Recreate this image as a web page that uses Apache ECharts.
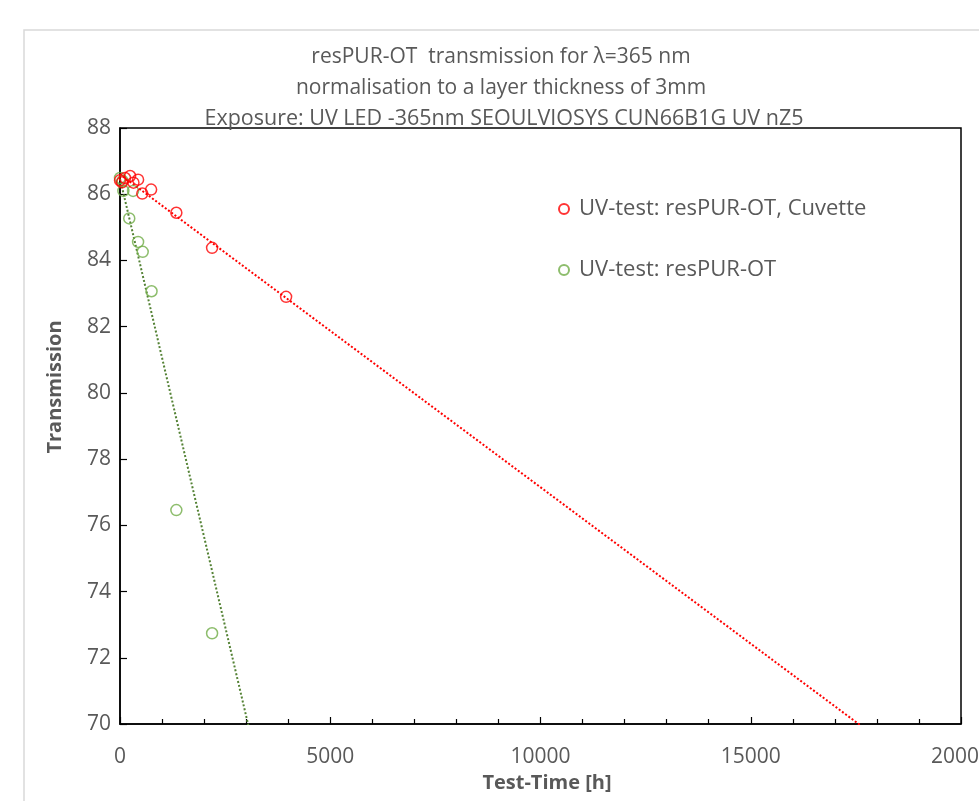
<!DOCTYPE html>
<html>
<head>
<meta charset="utf-8">
<script src="https://cdn.jsdelivr.net/npm/echarts@6/dist/echarts.min.js"></script>
<style>html,body{margin:0;padding:0;background:#fff}#c{width:979px;height:801px}</style>
</head>
<body>
<div id="c"></div>
<script>
// ---- data ----
var titleLines = [
  'resPUR-OT  transmission for \u03bb=365 nm',
  'normalisation to a layer thickness of 3mm',
  'Exposure: UV LED -365nm SEOULVIOSYS CUN66B1G UV nZ5'
];
var seriesNames = ['UV-test: resPUR-OT, Cuvette', 'UV-test: resPUR-OT'];
var cuvetteTime = [0, 48, 120, 240, 320, 430, 530, 740, 1340, 2190, 3950];
var cuvetteValue = [86.42, 86.36, 86.49, 86.55, 86.35, 86.44, 86.02, 86.14, 85.44, 84.38, 82.9];
var layerTime = [0, 60, 80, 220, 310, 430, 540, 750, 1340, 2190];
var layerValue = [86.49, 86.4, 86.1, 85.27, 86.1, 84.56, 84.26, 83.07, 76.46, 72.74];
// linear trend lines: [intercept, slope per hour]
var cuvetteTrend = [86.6, -0.000945];
var layerTrend = [86.47, -0.00541];
var xTicks = [0, 5000, 10000, 15000, 20000];
var yTicks = [70, 72, 74, 76, 78, 80, 82, 84, 86, 88];
var xTitle = 'Test-Time [h]';
var yTitle = 'Transmission';

function pairs(t, v) { return t.map(function (x, i) { return [x, v[i]]; }); }
function trend(c) { return [xTicks[0], xTicks[xTicks.length - 1]].map(function (x) { return [x, c[0] + c[1] * x]; }); }

var FONT = '"Open Sans", sans-serif';
var GREY = '#595959';
var chart = echarts.init(document.getElementById('c'));
chart.setOption({
  animation: false,
  backgroundColor: '#fff',
  textStyle: { fontFamily: FONT },
  graphic: [
    { type: 'rect', shape: { x: 24, y: 30, width: 1000, height: 820 }, style: { fill: 'none', stroke: '#d9d9d9', lineWidth: 1.5 }, silent: true },
    { type: 'text', x: 501, y: 57, style: { text: titleLines[0], fill: GREY, font: '21px ' + FONT, textAlign: 'center', textVerticalAlign: 'middle' } },
    { type: 'text', x: 501, y: 88, style: { text: titleLines[1], fill: GREY, font: '21px ' + FONT, textAlign: 'center', textVerticalAlign: 'middle' } },
    { type: 'text', x: 504, y: 119, style: { text: titleLines[2], fill: GREY, font: '21.5px ' + FONT, textAlign: 'center', textVerticalAlign: 'middle' } },
    { type: 'text', x: 547, y: 783, style: { text: xTitle, fill: GREY, font: 'bold 20px ' + FONT, textAlign: 'center', textVerticalAlign: 'middle' } },
    { type: 'text', x: 55, y: 387, rotation: Math.PI / 2, style: { text: yTitle, fill: GREY, font: 'bold 20px ' + FONT, textAlign: 'center', textVerticalAlign: 'middle' } }
  ],
  grid: { left: 120, right: 18, top: 128, bottom: 77, show: true, borderColor: '#000', borderWidth: 1.5,
    backgroundColor: 'transparent', containLabel: false, outerBoundsMode: 'none' },
  legend: {
    orient: 'vertical', left: 553, top: 192, itemGap: 37, itemWidth: 10, itemHeight: 10,
    data: seriesNames,
    textStyle: { color: GREY, fontSize: 22, fontFamily: FONT, padding: [0, 0, 0, 5], lineHeight: 24 }
  },
  xAxis: {
    type: 'value', min: xTicks[0], max: xTicks[xTicks.length - 1], interval: 5000,
    axisLine: { show: true, lineStyle: { color: '#000', width: 1.5 } },
    axisTick: { show: true, inside: true, length: 7, lineStyle: { color: '#000', width: 1.2 } },
    minorTick: { show: true, splitNumber: 5, length: 5, lineStyle: { color: '#000', width: 1.2 } },
    splitLine: { show: false },
    axisLabel: { color: GREY, fontSize: 21, margin: 23, fontFamily: FONT, formatter: function (v) { return String(v); } }
  },
  yAxis: {
    type: 'value', min: yTicks[0], max: yTicks[yTicks.length - 1], interval: 2,
    axisLine: { show: true, lineStyle: { color: '#000', width: 1.5 } },
    axisTick: { show: true, inside: true, length: 7, lineStyle: { color: '#000', width: 1.2 } },
    splitLine: { show: false },
    axisLabel: { color: GREY, fontSize: 21, margin: 9, fontFamily: FONT }
  },
  series: [
    { type: 'line', name: 'trend1', data: trend(cuvetteTrend), showSymbol: false, symbol: 'none', silent: true,
      lineStyle: { color: '#ff0000', width: 2, type: 'dotted' }, clip: true, z: 1 },
    { type: 'line', name: 'trend2', data: trend(layerTrend), showSymbol: false, symbol: 'none', silent: true,
      lineStyle: { color: '#548235', width: 2, type: 'dotted' }, clip: true, z: 1 },
    { type: 'scatter', name: seriesNames[0], data: pairs(cuvetteTime, cuvetteValue), symbol: 'circle', symbolSize: 11,
      itemStyle: { color: 'rgba(0,0,0,0)', borderColor: '#ff0000', borderWidth: 1.5 }, z: 3 },
    { type: 'scatter', name: seriesNames[1], data: pairs(layerTime, layerValue), symbol: 'circle', symbolSize: 11,
      itemStyle: { color: 'rgba(0,0,0,0)', borderColor: '#70ad47', borderWidth: 1.5 }, z: 2 }
  ]
});
</script>
</body>
</html>
